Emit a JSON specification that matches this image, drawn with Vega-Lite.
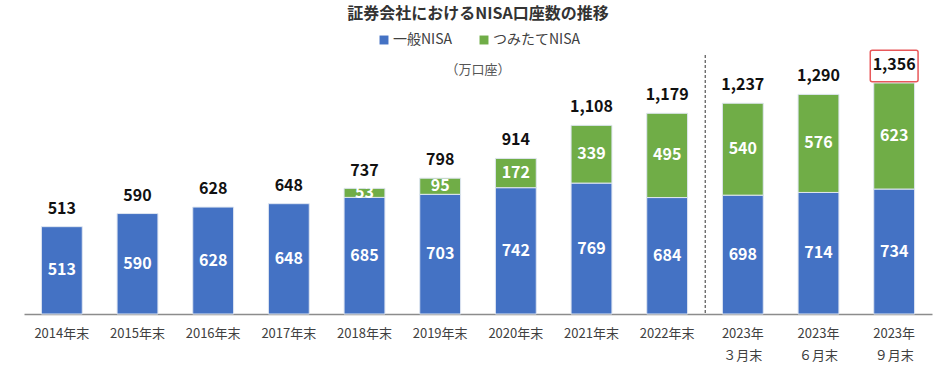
{
  "$schema": "https://vega.github.io/schema/vega-lite/v6.json",
  "width": 908,
  "height": 230,
  "autosize": {"type": "none"},
  "padding": {"left": 24, "top": 84, "right": 9, "bottom": 54},
  "background": "white",
  "title": {
    "text": "証券会社におけるNISA口座数の推移",
    "subtitle": "（万口座）",
    "anchor": "middle",
    "dx": 0,
    "offset": -44,
    "subtitlePadding": 42,
    "font": "Noto Sans CJK JP",
    "fontSize": 16,
    "fontWeight": "bold",
    "color": "#333333",
    "subtitleFont": "Noto Sans CJK JP",
    "subtitleFontSize": 13,
    "subtitleColor": "#555555"
  },
  "datasets": {
    "segments": [
      {"period": "2014年末", "type": "一般NISA", "value": 513},
      {"period": "2015年末", "type": "一般NISA", "value": 590},
      {"period": "2016年末", "type": "一般NISA", "value": 628},
      {"period": "2017年末", "type": "一般NISA", "value": 648},
      {"period": "2018年末", "type": "一般NISA", "value": 685},
      {"period": "2018年末", "type": "つみたてNISA", "value": 53},
      {"period": "2019年末", "type": "一般NISA", "value": 703},
      {"period": "2019年末", "type": "つみたてNISA", "value": 95},
      {"period": "2020年末", "type": "一般NISA", "value": 742},
      {"period": "2020年末", "type": "つみたてNISA", "value": 172},
      {"period": "2021年末", "type": "一般NISA", "value": 769},
      {"period": "2021年末", "type": "つみたてNISA", "value": 339},
      {"period": "2022年末", "type": "一般NISA", "value": 684},
      {"period": "2022年末", "type": "つみたてNISA", "value": 495},
      {"period": "2023年|３月末", "type": "一般NISA", "value": 698},
      {"period": "2023年|３月末", "type": "つみたてNISA", "value": 540},
      {"period": "2023年|６月末", "type": "一般NISA", "value": 714},
      {"period": "2023年|６月末", "type": "つみたてNISA", "value": 576},
      {"period": "2023年|９月末", "type": "一般NISA", "value": 734},
      {"period": "2023年|９月末", "type": "つみたてNISA", "value": 623}
    ],
    "totals": [
      {"period": "2014年末", "total": 513},
      {"period": "2015年末", "total": 590},
      {"period": "2016年末", "total": 628},
      {"period": "2017年末", "total": 648},
      {"period": "2018年末", "total": 737},
      {"period": "2019年末", "total": 798},
      {"period": "2020年末", "total": 914},
      {"period": "2021年末", "total": 1108},
      {"period": "2022年末", "total": 1179},
      {"period": "2023年|３月末", "total": 1237},
      {"period": "2023年|６月末", "total": 1290},
      {"period": "2023年|９月末", "total": 1356}
    ],
    "divider": [
      {"period": "2023年|３月末"}
    ]
  },
  "encoding": {
    "x": {
      "field": "period",
      "type": "nominal",
      "scale": {
        "domain": ["2014年末", "2015年末", "2016年末", "2017年末", "2018年末", "2019年末", "2020年末", "2021年末", "2022年末", "2023年|３月末", "2023年|６月末", "2023年|９月末"],
        "paddingInner": 0.46,
        "paddingOuter": 0.23
      },
      "axis": {
        "title": null,
        "labelAngle": 0,
        "labelExpr": "split(datum.label, '|')",
        "labelFont": "Noto Sans CJK JP",
        "labelFontSize": 13,
        "labelColor": "#404040",
        "labelPadding": 13,
        "labelLineHeight": 22,
        "labelBaseline": "top",
        "ticks": false,
        "domainColor": "#8c8c8c",
        "domainWidth": 1.5,
        "grid": false
      }
    }
  },
  "layer": [
    {
      "data": {"name": "segments"},
      "mark": {"type": "bar", "stroke": "#dfe6f1", "strokeWidth": 1},
      "encoding": {
        "y": {
          "field": "value",
          "type": "quantitative",
          "stack": "zero",
          "scale": {"domain": [0, 1351], "nice": false, "zero": true},
          "axis": null
        },
        "color": {
          "field": "type",
          "type": "nominal",
          "scale": {"domain": ["一般NISA", "つみたてNISA"], "range": ["#4472C4", "#70AD47"]},
          "legend": {
            "title": null,
            "orient": "none",
            "direction": "horizontal",
            "legendX": 353,
            "legendY": -51,
            "symbolType": "square",
            "symbolSize": 80,
            "symbolStrokeWidth": 0,
            "labelFont": "Noto Sans CJK JP",
            "labelFontSize": 14,
            "labelColor": "#404040",
            "labelOffset": 2,
            "columnPadding": 24
          }
        },
        "order": {"field": "type", "sort": "descending"}
      }
    },
    {
      "data": {"name": "segments"},
      "transform": [
        {"stack": "value", "groupby": ["period"], "sort": [{"field": "type", "order": "descending"}], "as": ["v0", "v1"]},
        {"fold": ["v0", "v1"], "as": ["edgeName", "edge"]}
      ],
      "mark": {"type": "text", "color": "white", "font": "Noto Sans CJK JP", "fontSize": 16, "fontWeight": "bold", "baseline": "middle"},
      "encoding": {
        "y": {"field": "edge", "type": "quantitative", "aggregate": "mean"},
        "detail": {"field": "type"},
        "text": {"field": "value", "type": "quantitative", "aggregate": "max"}
      }
    },
    {
      "data": {"name": "totals"},
      "mark": {"type": "text", "color": "#111111", "font": "Noto Sans CJK JP", "fontSize": 16, "fontWeight": "bold", "baseline": "middle", "dy": -18},
      "encoding": {
        "y": {"field": "total", "type": "quantitative"},
        "text": {"field": "total", "type": "quantitative", "format": ","}
      }
    },
    {
      "data": {"name": "totals"},
      "transform": [{"filter": "datum.period === '2023年|９月末'"}],
      "mark": {"type": "rect", "fill": "transparent", "stroke": "#e8585a", "strokeWidth": 1.5, "cornerRadius": 2, "width": {"band": 1.17}, "yOffset": -1.5, "y2Offset": -33},
      "encoding": {
        "y": {"field": "total", "type": "quantitative"},
        "y2": {"field": "total"}
      }
    },
    {
      "data": {"name": "divider"},
      "mark": {"type": "rule", "color": "#555555", "strokeWidth": 1.2, "strokeDash": [3, 2]},
      "encoding": {
        "x": {"field": "period", "type": "nominal", "bandPosition": -0.42},
        "y": {"datum": 1521, "type": "quantitative"},
        "y2": {"datum": 0}
      }
    }
  ],
  "config": {
    "view": {"stroke": null}
  }
}
